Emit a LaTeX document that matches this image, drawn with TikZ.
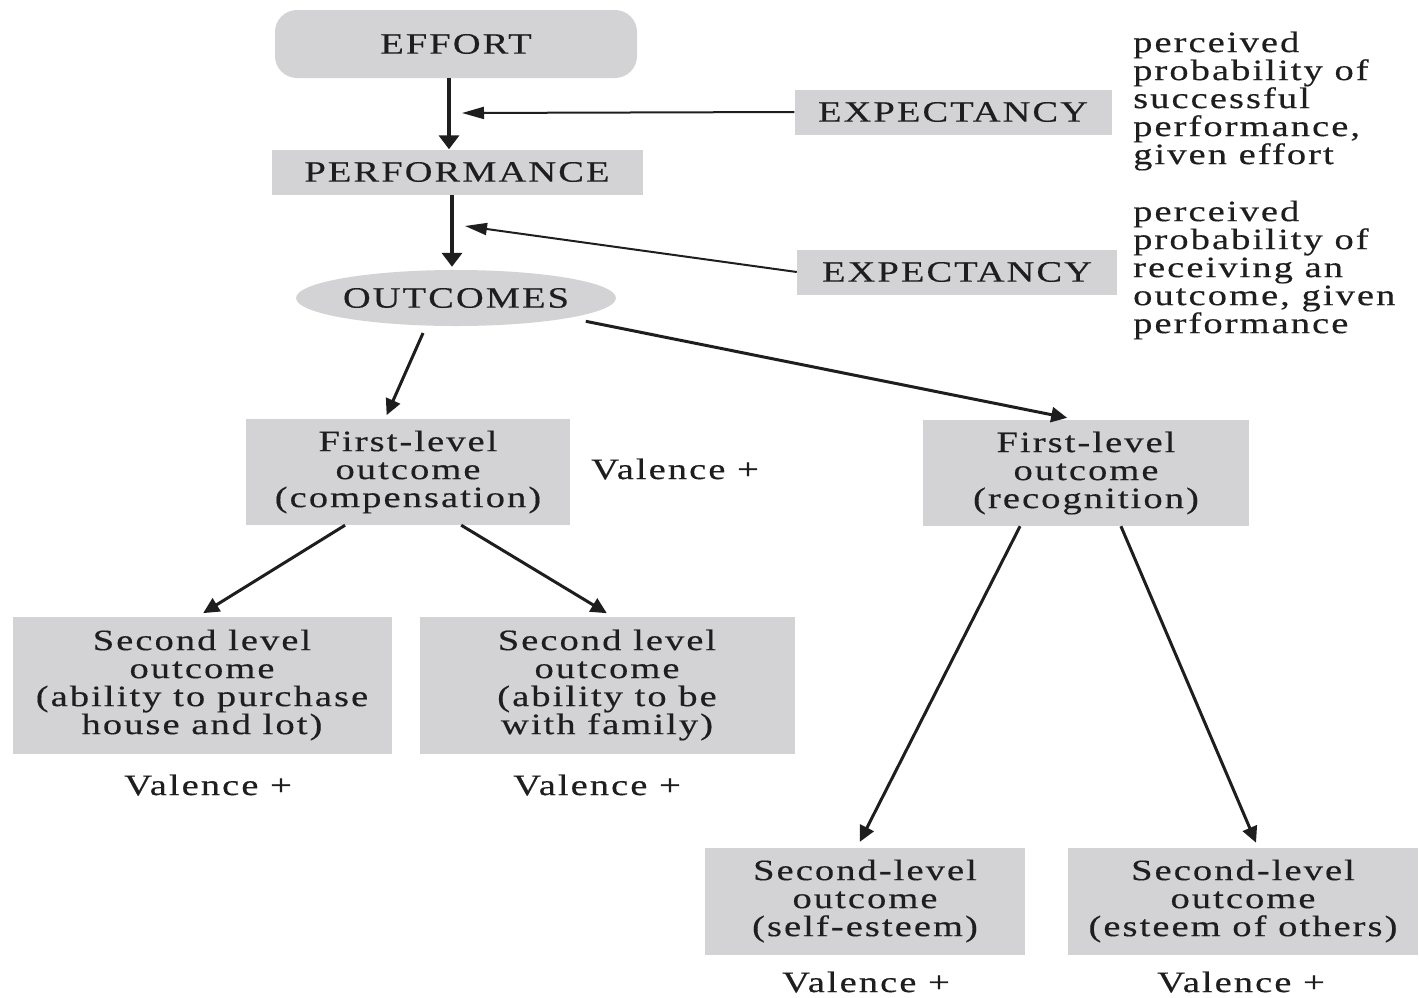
\documentclass[tikz,border=0pt]{standalone}
\usepackage{fontspec}
\setmainfont{Liberation Serif}[FakeStretch=1.3,LetterSpace=7,FakeBold=0.4]
\usetikzlibrary{arrows.meta,shapes.geometric,calc}
\definecolor{boxgray}{RGB}{211,211,213}
\definecolor{ink}{RGB}{30,30,30}
\begin{document}
\begin{tikzpicture}[x=1pt,y=-1pt,
  every node/.style={font=\fontsize{29.6}{28}\selectfont, text=ink, inner sep=0pt, align=center},
  box/.style 2 args={fill=boxgray, minimum width=#1, minimum height=#2},
  mainarrow/.style={draw=ink, line width=4.5pt, -{Triangle[length=14pt,width=20pt]}},
  exparrow/.style={draw=ink, line width=2pt, -{Triangle[length=22pt,width=12pt]}},
  branch/.style={draw=ink, line width=3pt, -{Triangle[length=16pt,width=15pt]}}]
\useasboundingbox (0,0) rectangle (1419,997);

% main chain
\node[fill=boxgray, rounded corners=22pt, minimum width=362, minimum height=68] (effort) at (456,44) {EFFORT};
\node[box={371}{45}] (perf) at (457,172) {PERFORMANCE};
\node[ellipse, fill=boxgray, minimum width=312, minimum height=56] (out) at (456,298) {OUTCOMES};

% expectancies and their descriptions
\node[box={317}{45}] (exp1) at (953,112) {EXPECTANCY};
\node[box={320}{45}] (exp2) at (957,272) {EXPECTANCY};
\node[anchor=west, align=left] (d1) at (1133,101) {perceived\\probability of\\successful\\performance,\\given effort};
\node[anchor=west, align=left] (d2) at (1133,270) {perceived\\probability of\\receiving an\\outcome, given\\performance};
\coordinate (j1) at (462,113);
\coordinate (j2) at (465,226);

% first-level outcomes
\node[box={324}{106}] (comp) at (408,472) {First-level\\outcome\\(compensation)};
\node (v1) at (675,469) {Valence +};
\node[box={326}{106}] (recog) at (1086,473) {First-level\\outcome\\(recognition)};

% second-level outcomes
\node[box={379}{137}] (house) at (202,685) {Second level\\outcome\\(ability to purchase\\house and lot)};
\node[box={375}{137}] (family) at (607,685) {Second level\\outcome\\(ability to be\\with family)};
\node (v2) at (208,785) {Valence +};
\node (v3) at (597,785) {Valence +};
\node[box={320}{107}] (self) at (865,901) {Second-level\\outcome\\(self-esteem)};
\node[box={350}{107}] (others) at (1243,901) {Second-level\\outcome\\(esteem of others)};
\node (v4) at (866,982) {Valence +};
\node (v5) at (1241,982) {Valence +};

% connectors
\draw[mainarrow] ([xshift=-7pt]effort.south) -- ([xshift=-8pt]perf.north);
\draw[mainarrow, shorten >=3pt] ([xshift=-5pt]perf.south) -- ([xshift=-4pt]out.north);
\draw[exparrow] (exp1.west) -- (j1);
\draw[exparrow] (exp2.west) -- (j2);
\draw[branch, shorten <=8pt, shorten >=4pt] (out.223) -- ([xshift=-23pt]comp.north);
\draw[branch, shorten <=17pt, shorten >=10pt] (out.-10) -- ([xshift=-9pt]recog.north);
\draw[branch, shorten >=6pt] ($(comp.south west)!0.306!(comp.south east)$) -- ([xshift=-4pt]house.north);
\draw[branch, shorten >=6pt] ($(comp.south west)!0.664!(comp.south east)$) -- ([xshift=5pt]family.north);
\draw[branch, shorten >=6pt] ($(recog.south west)!0.298!(recog.south east)$) -- ([xshift=-8pt]self.north);
\draw[branch, shorten >=5pt] ($(recog.south west)!0.607!(recog.south east)$) -- ([xshift=15pt]others.north);
\end{tikzpicture}
\end{document}
